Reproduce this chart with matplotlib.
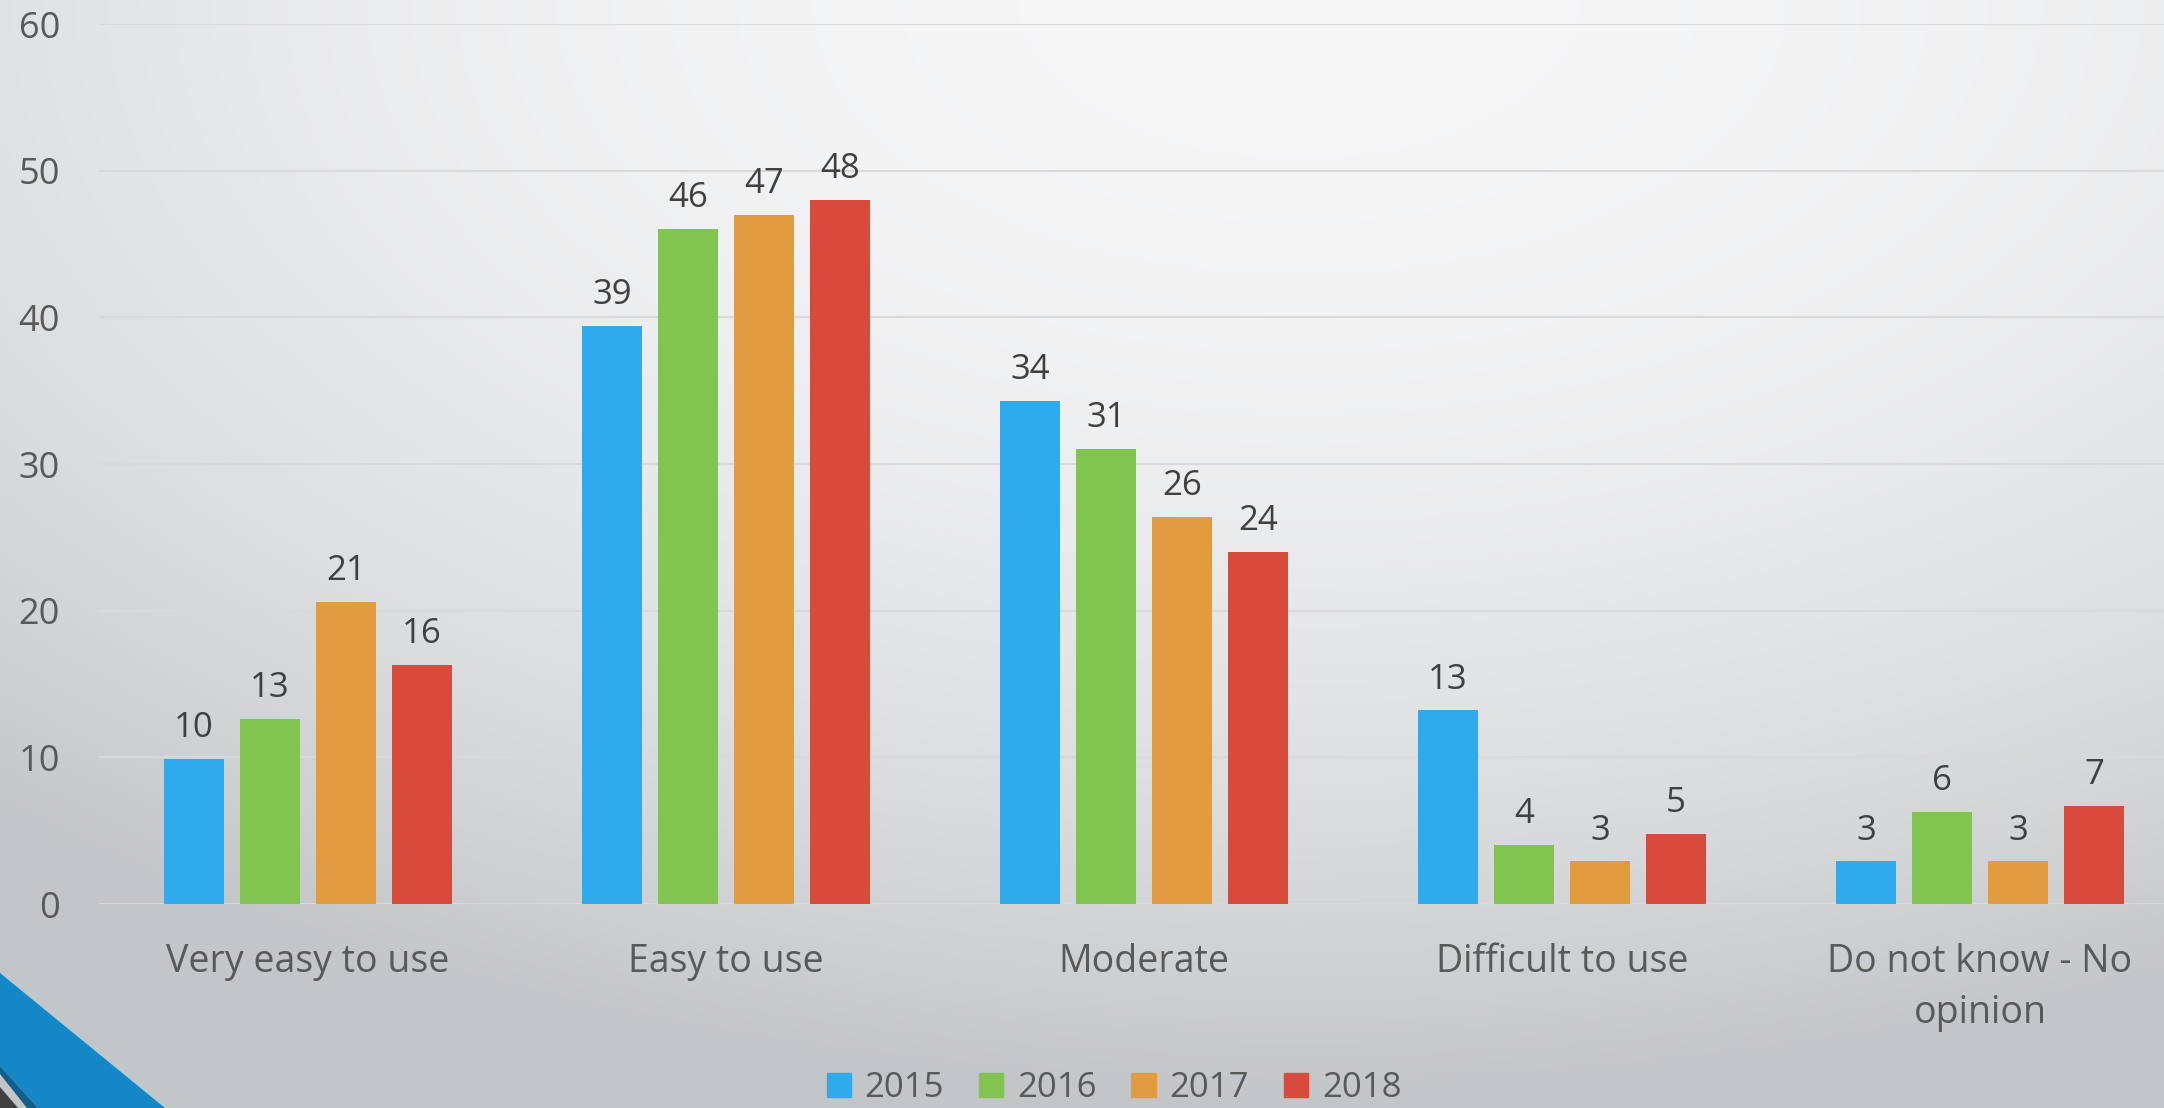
import numpy as np
import matplotlib
matplotlib.use('Agg')
import matplotlib.pyplot as plt
from matplotlib.patches import Polygon, Patch

# Chart data
categories = ['Very easy to use', 'Easy to use', 'Moderate', 'Difficult to use', 'Do not know - No\nopinion']
years = ['2015', '2016', '2017', '2018']
v2015 = [9.9, 39.4, 34.3, 13.2, 2.9]
v2016 = [12.6, 46.0, 31.0, 4.0, 6.3]
v2017 = [20.6, 47.0, 26.4, 2.9, 2.9]
v2018 = [16.3, 48.0, 24.0, 4.8, 6.7]
yticks = [0, 10, 20, 30, 40, 50, 60]

colors = ['#2eabec', '#81c450', '#e29c3f', '#d84b3c']
W, H = 2164, 1108

plt.rcParams['font.family'] = ['Open Sans', 'DejaVu Sans']

fig = plt.figure(figsize=(W / 100, H / 100), dpi=100)

# Background: soft elliptical gradient, bright near the top centre
bg = fig.add_axes([0, 0, 1, 1])
gx, gy = np.meshgrid(np.linspace(0, W, 541), np.linspace(0, H, 277))
r = np.sqrt(((gx - 1300) / 1970) ** 2 + (gy / 1100) ** 2)
t = np.clip(r, 0, 1) ** 2
c_in = np.array([247, 247, 248]) / 255
c_out = np.array([195, 198, 200]) / 255
img = c_in[None, None, :] * (1 - t[..., None]) + c_out[None, None, :] * t[..., None]
bg.imshow(img, extent=(0, W, H, 0), aspect='auto', interpolation='bilinear')
bg.set_xlim(0, W)
bg.set_ylim(H, 0)
bg.axis('off')

# Corner decoration
bg.add_patch(Polygon([(0, 973), (165, 1108), (38, 1108), (0, 1066)], closed=True, color='#1487c6', lw=0))
bg.add_patch(Polygon([(0, 1066), (38, 1108), (27, 1108), (0, 1074)], closed=True, color='#0e5e8e', lw=0))
bg.add_patch(Polygon([(0, 1087), (18, 1108), (0, 1108)], closed=True, color='#404040', lw=0))

# Main chart
ax = fig.add_axes([99 / W, 1 - 904 / H, 2090 / W, 880 / H])
ax.patch.set_alpha(0)

x = np.arange(len(categories))
step = 0.182
width = 0.1435
series = [v2015, v2016, v2017, v2018]
for j, vals in enumerate(series):
    bars = ax.bar(x + (j - 1.5) * step, vals, width=width, color=colors[j], zorder=3)
    ax.bar_label(bars, labels=[f'{v:.0f}' for v in vals], padding=10,
                 fontsize=25, color='#404040')

ax.set_xlim(-0.5, 4.5)
ax.set_ylim(0, 60)
ax.set_yticks(yticks)
ax.set_xticks(x)
ax.set_xticklabels(categories, fontsize=27, color='#595959', linespacing=1.45)
ax.tick_params(axis='x', length=0, pad=28)
ax.tick_params(axis='y', length=0, pad=28, labelsize=26, labelcolor='#595959')
ax.yaxis.grid(True, color='#d9d9d9', linewidth=1.5)
ax.set_axisbelow(True)
for s in ax.spines.values():
    s.set_visible(False)

handles = [Patch(color=c, label=y) for c, y in zip(colors, years)]
fig.legend(handles=handles, loc='center', bbox_to_anchor=(1114 / W, 1 - 1088 / H),
           ncol=4, frameon=False, fontsize=25, labelcolor='#595959',
           handlelength=0.7, handleheight=0.7, handletextpad=0.4, columnspacing=1.0)

fig.savefig('out.png', dpi=100)
